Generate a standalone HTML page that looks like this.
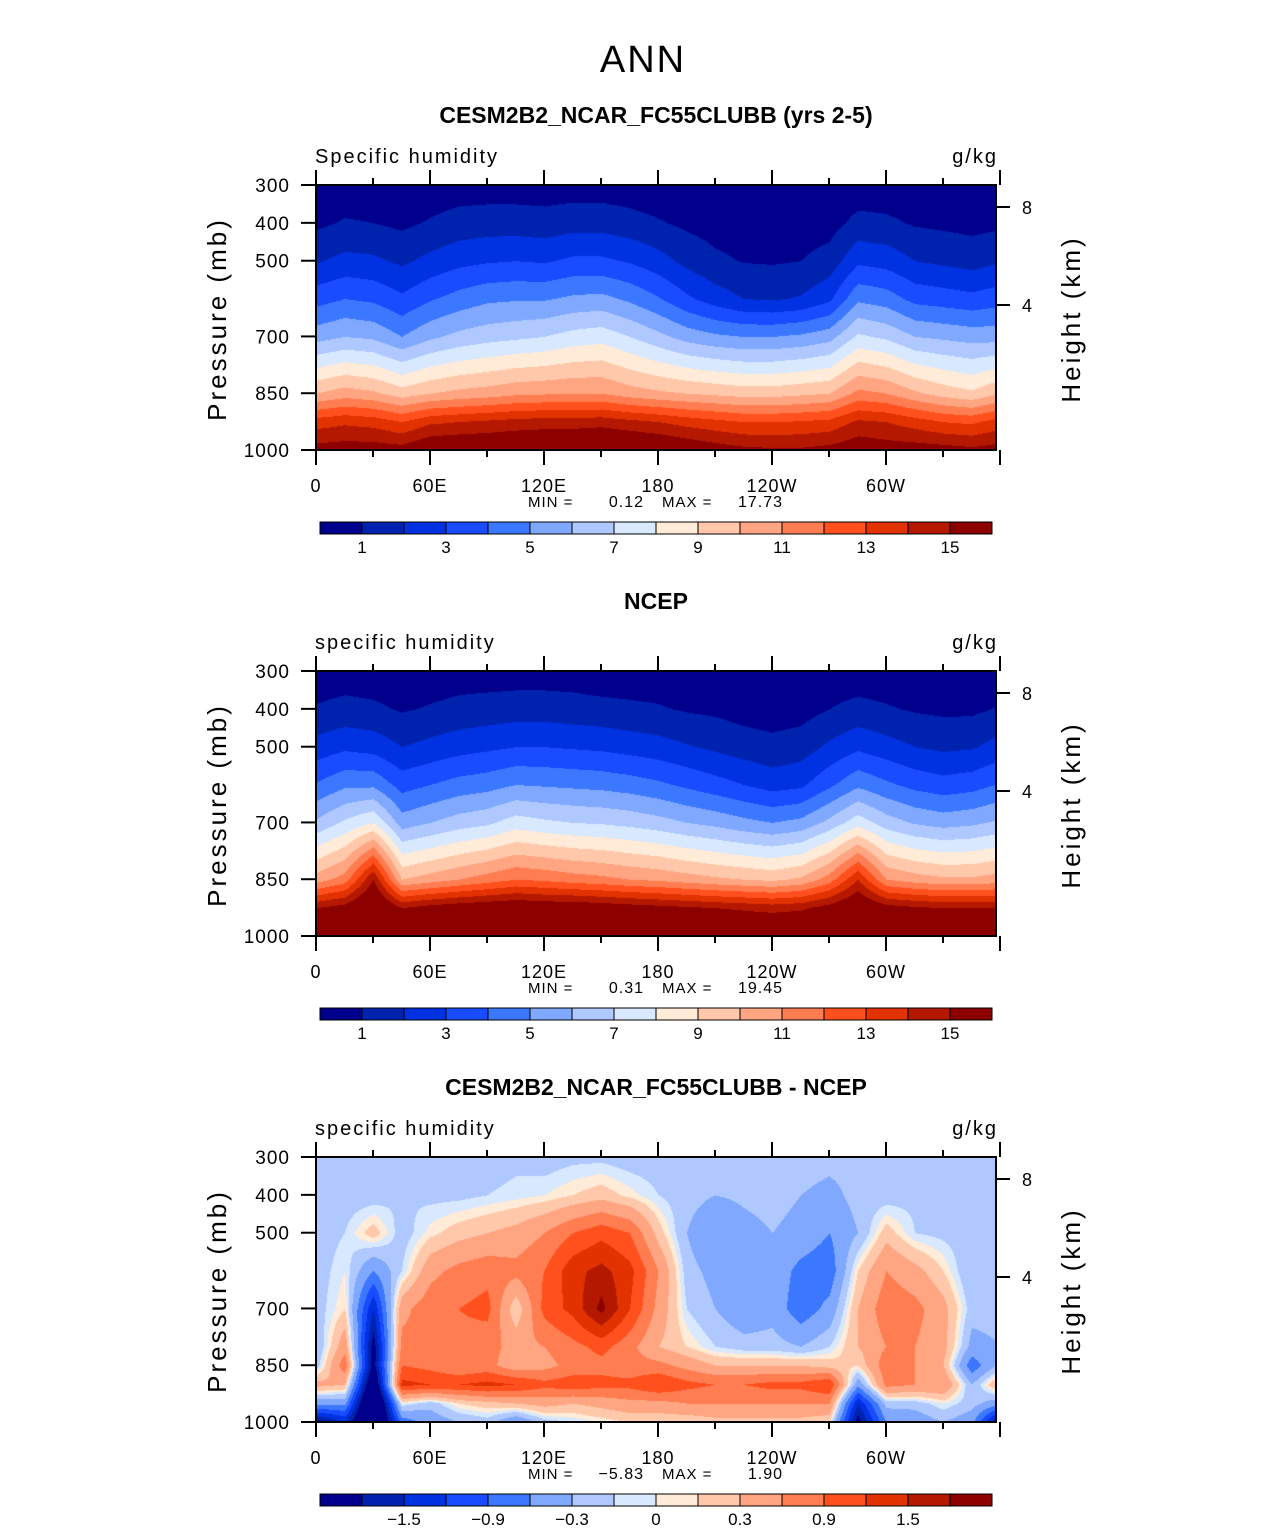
<!DOCTYPE html>
<html><head><meta charset="utf-8">
<style>
body{margin:0;background:#fff;width:1285px;height:1531px;position:relative;overflow:hidden;font-family:"Liberation Sans",sans-serif;}
canvas{position:absolute;}
svg{position:absolute;left:0;top:0;}
</style></head>
<body>
<canvas id="f0" width="680" height="265" style="left:316px;top:185px"></canvas>
<canvas id="f1" width="680" height="265" style="left:316px;top:671px"></canvas>
<canvas id="f2" width="680" height="265" style="left:316px;top:1157px"></canvas>
<svg id="ov" width="1285" height="1531"></svg>
<script>
const lons=[0,15,30,45,60,75,90,105,120,135,150,165,180,195,210,225,240,255,270,285,300,315,330,345,360];
const pModel=[300,400,500,600,700,850,925,1000];
const qModel=[
[0.3,0.8,1.9,3.6,5.6,10,13.5,15.5],[0.4,1.1,2.3,4.0,6.0,10.5,13.8,15.6],[0.4,1.0,2.2,3.8,5.8,10.2,13.6,15.6],
[0.3,0.8,1.8,3.2,5.0,9.5,13.0,15.5],[0.4,1.1,2.3,3.9,5.8,10,13.8,16.2],[0.5,1.4,2.7,4.4,6.3,10.3,14.0,16.3],
[0.5,1.5,2.9,4.8,6.6,10.5,14.2,16.3],[0.5,1.5,3.0,4.9,6.8,10.8,14.4,16.4],[0.5,1.4,2.9,4.9,7.0,10.9,14.5,16.5],
[0.5,1.6,3.2,5.2,7.4,11,14.5,16.6],[0.5,1.6,3.2,5.3,7.6,11,14.6,16.8],[0.4,1.4,2.9,4.8,7.0,10.5,14.3,16.6],
[0.3,1.1,2.4,4.1,6.3,10.2,14,16.4],[0.3,0.8,1.7,3.2,5.6,10,13.6,16],[0.3,0.6,1.2,2.5,5.2,9.8,13.3,15.6],
[0.3,0.5,0.95,2.0,5.0,9.6,13,15.3],[0.3,0.5,0.9,1.9,5.0,9.6,13,15.2],[0.3,0.5,1.0,2.1,5.2,9.8,13.1,15.2],
[0.3,0.6,1.4,2.8,5.6,10,13.3,15.4],[0.4,1.3,2.8,4.8,7.2,11.3,14.2,15.8],[0.4,1.2,2.6,4.5,6.8,11,14,15.6],
[0.3,0.9,2.0,3.7,6.0,10.2,13.5,15.6],[0.3,0.8,1.8,3.5,5.8,9.6,13,15.5],[0.3,0.7,1.6,3.3,5.6,9.2,12.8,15.3],
[0.3,0.8,1.9,3.6,5.6,10,13.5,15.5]];
const qNcep=[
[0.4,1.1,2.4,4.1,6.2,10.5,15,17],[0.5,1.3,2.8,4.8,7.2,11.5,15.5,17],[0.4,1.2,2.6,4.8,8.0,15,17,17],
[0.3,0.9,2.0,3.6,5.5,10,15,17],[0.4,1.1,2.3,4.0,6.0,10.5,15.5,17.5],[0.5,1.3,2.6,4.4,6.5,11,15.8,17.8],
[0.5,1.4,2.8,4.6,6.8,11.5,16,18],[0.5,1.5,3.0,5.0,7.5,12,16.2,18],[0.5,1.5,3.0,4.9,7.2,11.8,16,18],
[0.5,1.4,2.9,4.8,7,11.5,16,18],[0.4,1.3,2.8,4.7,6.9,11.3,15.8,18],[0.4,1.2,2.6,4.5,6.7,11,15.6,17.8],
[0.4,1.1,2.4,4.2,6.4,10.8,15.4,17.5],[0.3,0.9,2.1,3.8,6.0,10.5,15.2,17.4],[0.3,0.8,1.8,3.4,5.7,10.2,15,17.2],
[0.3,0.6,1.5,3.0,5.3,10,14.8,17],[0.3,0.5,1.3,2.6,5.0,9.8,14.6,17],[0.3,0.6,1.5,2.8,5.3,10.2,14.8,17],
[0.4,1.0,2.2,3.8,6.3,11.5,15.5,17.2],[0.4,1.3,2.8,4.8,7.6,14,16.5,17],[0.4,1.1,2.4,4.2,6.5,11,15.5,17.2],
[0.3,0.9,2.0,3.7,5.9,10.5,15.2,17.2],[0.3,0.8,1.8,3.4,5.6,10.2,15,17],[0.3,0.8,1.9,3.6,5.8,10.2,15,17],
[0.4,1.1,2.4,4.1,6.2,10.5,15,17]];
const pDiff=[300,400,500,600,700,800,850,900,950,1000];
const qDiff=[
[-0.2,-0.2,-0.2,-0.2,-0.2,-0.3,-0.2,0.4,-0.5,-2],
[-0.2,-0.2,-0.1,0.0,0.1,0.5,0.8,0.3,-0.5,-1.5],
[-0.3,-0.2,0.2,-0.6,-1.5,-2,-2,-2.5,-3,-3],
[-0.1,-0.1,-0.2,-0.1,0.5,0.7,0.9,1.3,0,-0.8],
[-0.2,-0.15,0.05,0.5,0.8,0.7,0.8,1.2,-0.2,-0.5],
[-0.2,-0.15,0.2,0.7,0.9,0.8,0.6,1.2,0.1,-0.3],
[-0.2,-0.1,0.3,0.8,1.0,0.7,0.7,1.3,0.2,-0.2],
[-0.15,-0.05,0.4,0.7,0.1,0.5,0.4,1.2,0.3,-0.6],
[-0.2,0.0,0.6,0.9,1.0,0.6,0.5,1.0,0.4,-0.2],
[-0.15,0.1,0.9,1.4,1.3,0.8,0.7,1.1,0.3,-0.1],
[-0.15,0.2,1.1,1.6,1.9,1.0,0.8,1.0,0.4,0.0],
[-0.2,0.05,0.9,1.3,1.2,0.7,0.7,1.0,0.5,0.1],
[-0.2,-0.1,0.2,0.6,0.5,0.3,0.7,1.2,0.5,0.1],
[-0.2,-0.2,-0.3,-0.2,-0.1,0.1,0.5,1.0,0.6,0.1],
[-0.2,-0.3,-0.6,-0.4,-0.3,-0.1,0.3,0.9,0.6,0.2],
[-0.2,-0.25,-0.4,-0.3,-0.5,-0.2,0.3,0.9,0.6,0.2],
[-0.15,-0.2,-0.3,-0.4,-0.4,-0.2,0.3,1.0,0.6,0.2],
[-0.15,-0.3,-0.4,-0.7,-0.8,-0.3,0.3,1.0,0.6,0.2],
[-0.2,-0.4,-0.6,-0.8,-0.5,-0.1,0.2,1.2,0.6,0.1],
[-0.2,-0.2,-0.3,0.1,0.3,0.3,0.1,-0.5,-1.5,-2],
[-0.2,-0.2,0.2,0.6,0.8,0.6,0.8,0.7,-0.2,-0.6],
[-0.2,-0.15,-0.1,0.4,0.7,0.6,0.6,0.6,-0.2,-0.5],
[-0.2,-0.2,-0.15,0.1,0.4,0.4,0.3,0.6,0.0,-0.3],
[-0.3,-0.2,-0.2,-0.3,-0.2,-0.4,-0.8,-0.3,-0.2,-0.5],
[-0.2,-0.2,-0.2,-0.2,-0.2,-0.3,-0.2,0.4,-0.5,-2]];
const levelsQ=[1,2,3,4,5,6,7,8,9,10,11,12,13,14,15];
const levelsD=[-1.8,-1.5,-1.2,-0.9,-0.6,-0.3,-0.1,0,0.1,0.3,0.6,0.9,1.2,1.5,1.8];
const labelsQ=["1","3","5","7","9","11","13","15"];
const labelsD=["\u22121.5","\u22120.9","\u22120.3","0","0.3","0.9","1.5"];
const colors=[[0,0,140],[0,35,175],[0,50,225],[25,75,255],[60,120,255],[128,168,255],[175,200,255],[215,232,255],[255,235,215],[255,200,170],[255,165,130],[255,125,80],[255,80,30],[225,50,0],[180,25,0],[140,0,0]];

const X0=316,PW=680,PH=265;
function xOfLon(l){return l*684/360;}
function yOfP(p){return (p-300)*PH/700;}
function interp(grid,plevs,lon,p){
  let i=Math.min(Math.floor(lon/15),lons.length-2);let t=(lon-lons[i])/15;
  let j=0;while(j<plevs.length-2&&p>plevs[j+1])j++;
  let u=(p-plevs[j])/(plevs[j+1]-plevs[j]);
  const a=grid[i][j]*(1-u)+grid[i][j+1]*u, b=grid[i+1][j]*(1-u)+grid[i+1][j+1]*u;
  return a*(1-t)+b*t;
}
function drawField(id,grid,plevs,levels){
  const c=document.getElementById(id),ctx=c.getContext('2d'),img=ctx.createImageData(PW,PH);
  for(let py=0;py<PH;py++){const p=300+py*700/PH;
    for(let px=0;px<PW;px++){const lon=px*360/684;const v=interp(grid,plevs,lon,p);
      let k=0;while(k<levels.length&&v>=levels[k])k++;
      const col=colors[k],o=(py*PW+px)*4;img.data[o]=col[0];img.data[o+1]=col[1];img.data[o+2]=col[2];img.data[o+3]=255;}}
  ctx.putImageData(img,0,0);
}
drawField('f0',qModel,pModel,levelsQ);
drawField('f1',qNcep,pModel,levelsQ);
drawField('f2',qDiff,pDiff,levelsD);

const NS='http://www.w3.org/2000/svg',svg=document.getElementById('ov');
function el(tag,attrs,parent){const e=document.createElementNS(NS,tag);for(const k in attrs)e.setAttribute(k,attrs[k]);(parent||svg).appendChild(e);return e;}
function txt(s,x,y,size,anchor,parent,extra){const t=el('text',Object.assign({x:x,y:y,'font-size':size,'text-anchor':anchor||'start',fill:'#000','font-family':'Liberation Sans, sans-serif'},extra||{}),parent);t.textContent=s;return t;}

const tTitle=txt('ANN',643,72,38,'middle',null,{'font-weight':'300','letter-spacing':'2'});



const titles=['CESM2B2_NCAR_FC55CLUBB (yrs 2-5)','NCEP','CESM2B2_NCAR_FC55CLUBB - NCEP'];
const leftT=['Specific humidity','specific humidity','specific humidity'];
const mins=['0.12','0.31','\u22125.83'],maxs=['17.73','19.45','1.90'];
const pTicks=[300,400,500,700,850,1000];
const hTicks=[8,4];const hY=[22,120];
const xLab=['0','60E','120E','180','120W','60W'];
for(let k=0;k<3;k++){
  const T=185+486*k;
  const g=el('g',{});
  
  
  const st=txt(titles[k],656,T-62,23,'middle',g,{'font-weight':'bold','font-stretch':'condensed'});
  
  
  txt(leftT[k],315,T-22,20,'start',g,{'letter-spacing':'2'});
  txt('g/kg',998,T-22,20,'end',g,{'letter-spacing':'2'});
  el('rect',{x:X0,y:T,width:PW,height:PH,fill:'none',stroke:'#000','stroke-width':2},g);
  for(let i=0;i<=12;i++){const x=X0+xOfLon(i*30);const maj=i%2==0;const L=maj?15:7;
    el('line',{x1:x,y1:T,x2:x,y2:T-L,stroke:'#000','stroke-width':2},g);
    el('line',{x1:x,y1:T+PH,x2:x,y2:T+PH+L,stroke:'#000','stroke-width':2},g);
    if(maj&&i<12)txt(xLab[i/2],x,T+PH+42,18,'middle',g,{'letter-spacing':'1'});}
  pTicks.forEach(p=>{const y=T+yOfP(p);el('line',{x1:X0,y1:y,x2:X0-15,y2:y,stroke:'#000','stroke-width':2},g);
    txt(String(p),290,y+7,19,'end',g,{'letter-spacing':'1'});});
  hTicks.forEach((h,i)=>{const y=T+hY[i];el('line',{x1:X0+PW,y1:y,x2:X0+PW+14,y2:y,stroke:'#000','stroke-width':2},g);
    txt(String(h),1022,y+7,18,'start',g);});
  txt('Pressure (mb)',0,0,26,'middle',g,{transform:'translate(226,'+(T+134)+') rotate(-90)','letter-spacing':'3'});
  txt('Height (km)',0,0,26,'middle',g,{transform:'translate(1080,'+(T+134)+') rotate(-90)','letter-spacing':'3'});
  txt('MIN =',528,T+322,15,'start',g,{'letter-spacing':'1'});txt(mins[k],644,T+322,16,'end',g,{'letter-spacing':'1'});
  txt('MAX =',662,T+322,15,'start',g,{'letter-spacing':'1'});txt(maxs[k],783,T+322,16,'end',g,{'letter-spacing':'1'});
  const cb=el('g',{},g);
  
  
  const cy=T+337,bw=42;
  for(let i=0;i<16;i++){const r=el('rect',{x:320+i*bw,y:cy,width:bw,height:12,fill:'rgb('+colors[i].join(',')+')',stroke:'#000','stroke-width':1},cb);
    
    }
  if(k<2){labelsQ.forEach((s,i)=>txt(s,320+(1+2*i)*bw,cy+31,17,'middle',cb));}
  else{labelsD.forEach((s,i)=>txt(s,320+(2+2*i)*bw,cy+31,17,'middle',cb));}
}
</script>
</body></html>
